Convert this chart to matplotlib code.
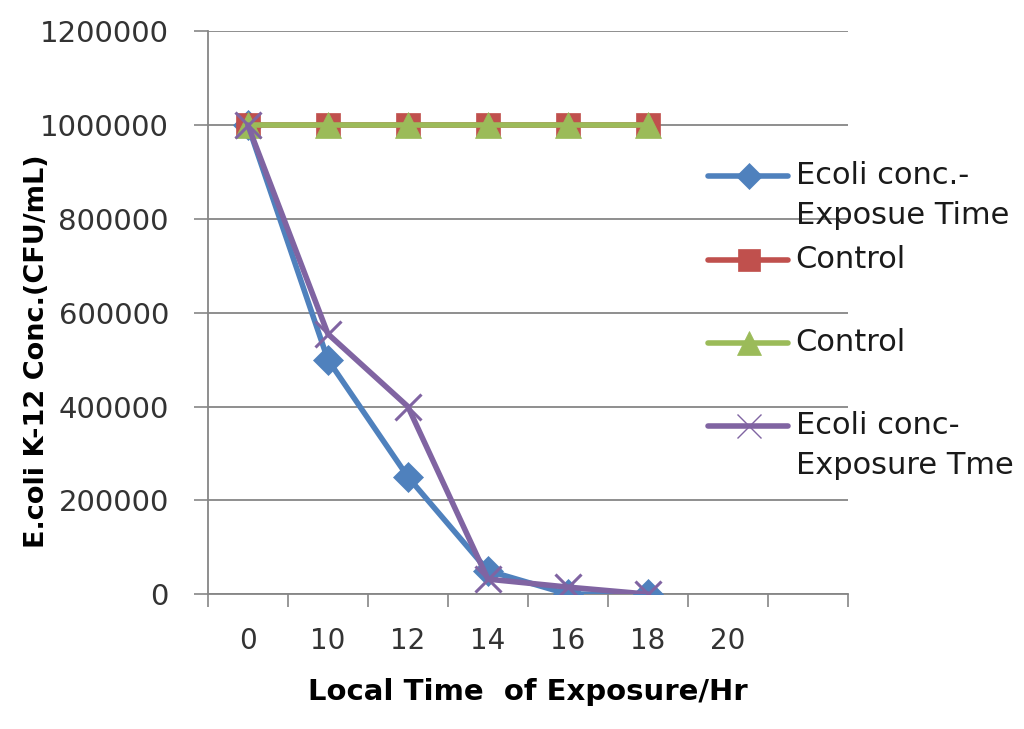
import numpy as np
import matplotlib.pyplot as plt
from matplotlib.lines import Line2D

# Data
CATEGORIES = ["0", "10", "12", "14", "16", "18", "20", ""]
ECOLI_1 = [1000000, 500000, 250000, 50000, 0, 0]
CONTROL_1 = [1000000, 1000000, 1000000, 1000000, 1000000, 1000000]
CONTROL_2 = [1000000, 1000000, 1000000, 1000000, 1000000, 1000000]
ECOLI_2 = [1000000, 555000, 400000, 32000, 15000, 0]
LABELS = ["Ecoli conc.-\nExposue Time", "Control", "Control", "Ecoli conc-\nExposure Tme"]

plt.rcParams["font.family"] = ["DejaVu Sans"]

fig = plt.figure(figsize=(10.24, 7.29), dpi=100)
ax = fig.add_axes([0.203, 0.185, 0.625, 0.772])

x = np.arange(len(ECOLI_1))
styles = [
    (ECOLI_1, "#4F81BD", "D", 15),
    (CONTROL_1, "#C0504D", "s", 17),
    (CONTROL_2, "#9BBB59", "^", 19),
    (ECOLI_2, "#8064A2", "x", 19),
]
for vals, col, mk, ms in styles:
    ax.plot(x, vals, color=col, lw=4, marker=mk, markersize=ms,
            markeredgewidth=2.2 if mk == "x" else 0.5, markeredgecolor=col,
            solid_capstyle="round", solid_joinstyle="round", zorder=3)

ax.set_xlim(-0.5, len(CATEGORIES) - 0.5)
ax.set_ylim(0, 1200000)
ax.set_yticks(np.arange(0, 1200001, 200000))
ax.set_yticklabels([str(v) for v in range(0, 1200001, 200000)], fontsize=21, color="#333333")
ax.set_xticks(np.arange(len(CATEGORIES)))
ax.set_xticklabels(CATEGORIES, fontsize=20, color="#333333")
ax.set_xticks(np.arange(len(CATEGORIES) + 1) - 0.5, minor=True)
ax.tick_params(axis="x", which="major", length=0, pad=24)
ax.tick_params(axis="x", which="minor", length=9, color="#868686", width=1.2)
ax.tick_params(axis="y", length=10, color="#868686", width=1.2, pad=18)

ax.grid(axis="y", color="#868686", lw=1.3, zorder=0)
for s in ["top", "right"]:
    ax.spines[s].set_visible(False)
for s in ["left", "bottom"]:
    ax.spines[s].set_color("#868686")
    ax.spines[s].set_linewidth(1.3)

ax.set_xlabel("Local Time  of Exposure/Hr", fontsize=21, fontweight="bold", labelpad=16)
ax.set_ylabel("E.coli K-12 Conc.(CFU/mL)", fontsize=19.5, fontweight="bold")
ax.yaxis.set_label_coords(-0.247, 0.432)

# Legend drawn by hand to the right, like Excel
leg_y = [0.759, 0.644, 0.530, 0.416]
line_step = 40 / 729
for (vals, col, mk, ms), lab, y in zip(styles, LABELS, leg_y):
    h = Line2D([0.691, 0.731, 0.770], [y, y, y], transform=fig.transFigure, color=col,
               lw=4, marker=mk, markevery=[1], markersize=ms * 0.9,
               markeredgewidth=1 if mk == "x" else 0.5, markeredgecolor=col,
               solid_capstyle="round")
    fig.add_artist(h)
    for i, part in enumerate(lab.split("\n")):
        fig.text(0.777, y - i * line_step, part, fontsize=22, va="center", ha="left",
                 color="#1a1a1a")

fig.savefig("out.png", dpi=100)
